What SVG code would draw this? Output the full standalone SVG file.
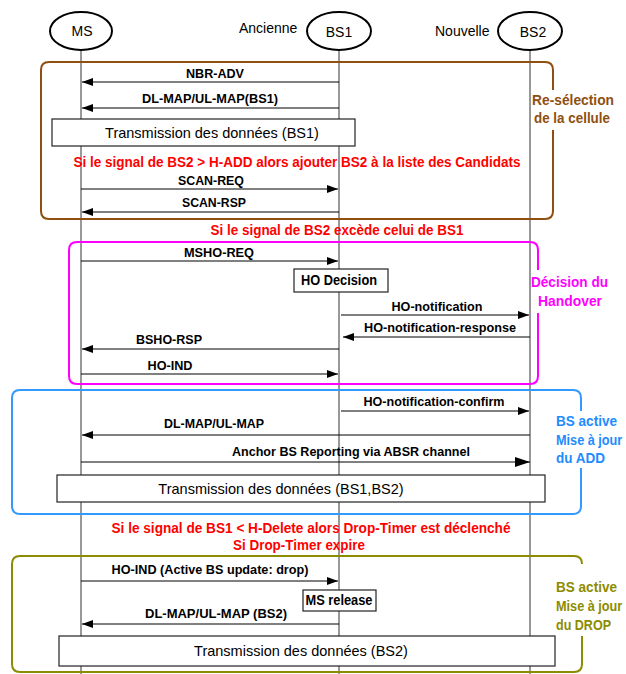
<svg xmlns="http://www.w3.org/2000/svg" width="626" height="674" viewBox="0 0 626 674">
<style>
text{font-family:"Liberation Sans",Arial,sans-serif;fill:#000}
.actor{font-size:14px;text-anchor:middle}
.side{font-size:14px}
.msg{font-size:13px;font-weight:bold;text-anchor:middle}
.box{font-size:14.5px;text-anchor:middle}
.red{font-size:14px;font-weight:bold;fill:#ff0000;text-anchor:middle}
.life{stroke:#333;stroke-width:1;fill:none}
.arr{stroke:#000;stroke-width:1;fill:none;marker-end:url(#ah)}
.rect{fill:#fff;stroke:#222;stroke-width:1.2}
.grp{fill:none;stroke-width:2}
.gl{font-size:15.5px;font-weight:bold}
</style>
<defs>
<marker id="ah" markerUnits="userSpaceOnUse" markerWidth="11" markerHeight="8" refX="11" refY="4" orient="auto"><path d="M0,0 L11,4 L0,8 z" fill="#000"/></marker>
<marker id="ahb" markerUnits="userSpaceOnUse" markerWidth="15" markerHeight="10" refX="15" refY="5" orient="auto"><path d="M0,0 L15,5 L0,10 z" fill="#000"/></marker>
</defs>

<g id="lifelines">
<line class="life" x1="81" y1="50" x2="81" y2="674"/>
<line class="life" x1="339" y1="50" x2="339" y2="674"/>
<line class="life" x1="530" y1="50" x2="530" y2="674"/>
</g>

<g id="MS">
<ellipse cx="81" cy="31" rx="31" ry="19" fill="#fff" stroke="#000" stroke-width="2"/>
<text class="actor" x="82" y="36">MS</text>
</g>
<g id="BS1">
<text class="side" x="239" y="33">Ancienne</text>
<ellipse cx="339" cy="31" rx="32" ry="19" fill="#fff" stroke="#000" stroke-width="2"/>
<text class="actor" x="339" y="37">BS1</text>
</g>
<g id="BS2">
<text class="side" x="435" y="36">Nouvelle</text>
<ellipse cx="530" cy="31" rx="32" ry="19" fill="#fff" stroke="#000" stroke-width="2"/>
<text class="actor" x="533" y="37">BS2</text>
</g>

<g id="group-reselection">
<path class="grp" stroke="#8f4f10" d="M553,90 V70 Q553,62 545,62 H49 Q41,62 41,70 V211 Q41,219 49,219 H545 Q553,219 553,211 V130"/>
<text class="gl" x="532" y="105" style="fill:#8f4f10" textLength="82" lengthAdjust="spacingAndGlyphs">Re-sélection</text>
<text class="gl" x="534" y="123" style="fill:#8f4f10" textLength="76" lengthAdjust="spacingAndGlyphs">de la cellule</text>
</g>
<g id="group-decision">
<path class="grp" stroke="#ff00ff" stroke-width="3" d="M538,270 V250 Q538,242 530,242 H77 Q69,242 69,250 V376 Q69,384 77,384 H530 Q538,384 538,376 V313"/>
<text class="gl" x="531" y="287" style="fill:#ff00ff" textLength="77" lengthAdjust="spacingAndGlyphs">Décision du</text>
<text class="gl" x="538" y="306" style="fill:#ff00ff" textLength="64" lengthAdjust="spacingAndGlyphs">Handover</text>
</g>
<g id="group-add">
<path class="grp" stroke="#3399ff" d="M581,411 V398 Q581,390 573,390 H20 Q12,390 12,398 V506 Q12,514 20,514 H573 Q581,514 581,506 V468"/>
<text class="gl" x="556" y="426" style="fill:#1e8cff" textLength="61" lengthAdjust="spacingAndGlyphs">BS active</text>
<text class="gl" transform="translate(556,445) scale(0.82,1)" x="0" y="0" style="fill:#1e8cff">Mise à jour</text>
<text class="gl" x="556" y="463" style="fill:#1e8cff" textLength="49" lengthAdjust="spacingAndGlyphs">du ADD</text>
</g>
<g id="group-drop">
<path class="grp" stroke="#8c8c00" d="M582,564 Q582,556 574,556 H20 Q12,556 12,564 V664 Q12,672 20,672 H574 Q582,672 582,664 V636"/>
<text class="gl" x="556" y="592" style="fill:#8c8c00" textLength="61" lengthAdjust="spacingAndGlyphs">BS active</text>
<text class="gl" transform="translate(556,611) scale(0.82,1)" x="0" y="0" style="fill:#8c8c00">Mise à jour</text>
<text class="gl" x="556" y="630" style="fill:#8c8c00" textLength="55" lengthAdjust="spacingAndGlyphs">du DROP</text>
</g>

<g id="connectors">
<line class="arr" x1="339" y1="82" x2="82" y2="82"/>
<line class="arr" x1="339" y1="108" x2="82" y2="108"/>
<line class="arr" x1="81" y1="189" x2="338" y2="189"/>
<line class="arr" x1="339" y1="212" x2="82" y2="212"/>
<line class="arr" x1="81" y1="261" x2="338" y2="261"/>
<line class="arr" x1="341" y1="315" x2="529" y2="315"/>
<line class="arr" x1="530" y1="337" x2="343" y2="337"/>
<line class="arr" x1="339" y1="349" x2="82" y2="349"/>
<line class="arr" x1="81" y1="374" x2="338" y2="374"/>
<line class="arr" x1="341" y1="411" x2="529" y2="411"/>
<line class="arr" x1="530" y1="435" x2="82" y2="435"/>
<line class="arr" x1="81" y1="462" x2="530" y2="462" style="marker-end:url(#ahb)"/>
<line class="arr" x1="81" y1="581" x2="338" y2="581"/>
<line class="arr" x1="339" y1="624" x2="82" y2="624"/>
</g>

<g id="labels">
<text class="msg" x="215" y="78" textLength="58" lengthAdjust="spacingAndGlyphs">NBR-ADV</text>
<text class="msg" x="210" y="103" textLength="136" lengthAdjust="spacingAndGlyphs">DL-MAP/UL-MAP(BS1)</text>
<text class="red" x="297" y="167" textLength="447" lengthAdjust="spacingAndGlyphs">Si le signal de BS2 &gt; H-ADD alors ajouter BS2 à la liste des Candidats</text>
<text class="msg" x="211" y="185" textLength="66" lengthAdjust="spacingAndGlyphs">SCAN-REQ</text>
<text class="msg" x="214" y="207" textLength="64" lengthAdjust="spacingAndGlyphs">SCAN-RSP</text>
<text class="red" x="337" y="235" textLength="253" lengthAdjust="spacingAndGlyphs">Si le signal de BS2 excède celui de BS1</text>
<text class="msg" x="219" y="257" textLength="70" lengthAdjust="spacingAndGlyphs">MSHO-REQ</text>
<text class="msg" x="437" y="311" textLength="91" lengthAdjust="spacingAndGlyphs">HO-notification</text>
<text class="msg" x="440" y="332" textLength="152" lengthAdjust="spacingAndGlyphs">HO-notification-response</text>
<text class="msg" x="169" y="344" textLength="66" lengthAdjust="spacingAndGlyphs">BSHO-RSP</text>
<text class="msg" x="170" y="370" textLength="45" lengthAdjust="spacingAndGlyphs">HO-IND</text>
<text class="msg" x="434" y="406" textLength="141" lengthAdjust="spacingAndGlyphs">HO-notification-confirm</text>
<text class="msg" x="214" y="428" textLength="100" lengthAdjust="spacingAndGlyphs">DL-MAP/UL-MAP</text>
<text class="msg" x="351" y="456" textLength="238" lengthAdjust="spacingAndGlyphs">Anchor BS Reporting via ABSR channel</text>
<text class="red" x="311" y="533" textLength="399" lengthAdjust="spacingAndGlyphs">Si le signal de BS1 &lt; H-Delete alors Drop-Timer est déclenché</text>
<text class="red" x="299" y="550" textLength="132" lengthAdjust="spacingAndGlyphs">Si Drop-Timer expire</text>
<text class="msg" x="210" y="574" textLength="197" lengthAdjust="spacingAndGlyphs">HO-IND (Active BS update: drop)</text>
<text class="msg" x="216" y="618" textLength="142" lengthAdjust="spacingAndGlyphs">DL-MAP/UL-MAP (BS2)</text>
</g>

<g id="box-data-bs1">
<rect class="rect" x="52" y="119" width="303" height="27"/>
<text class="box" x="212" y="138">Transmission des données (BS1)</text>
</g>
<g id="box-ho-decision">
<rect class="rect" x="294" y="269" width="94" height="23"/>
<text class="msg" x="339" y="285" style="font-size:14px" textLength="76" lengthAdjust="spacingAndGlyphs">HO Decision</text>
</g>
<g id="box-data-bs1-bs2">
<rect class="rect" x="57" y="475" width="488" height="27"/>
<text class="box" x="281" y="494">Transmission des données (BS1,BS2)</text>
</g>
<g id="box-ms-release">
<rect class="rect" x="303" y="590" width="73" height="21"/>
<text class="msg" x="339" y="605" style="font-size:14px" textLength="67" lengthAdjust="spacingAndGlyphs">MS release</text>
</g>
<g id="box-data-bs2">
<rect class="rect" x="59" y="636" width="496" height="30"/>
<text class="box" x="301" y="656">Transmission des données (BS2)</text>
</g>
</svg>
